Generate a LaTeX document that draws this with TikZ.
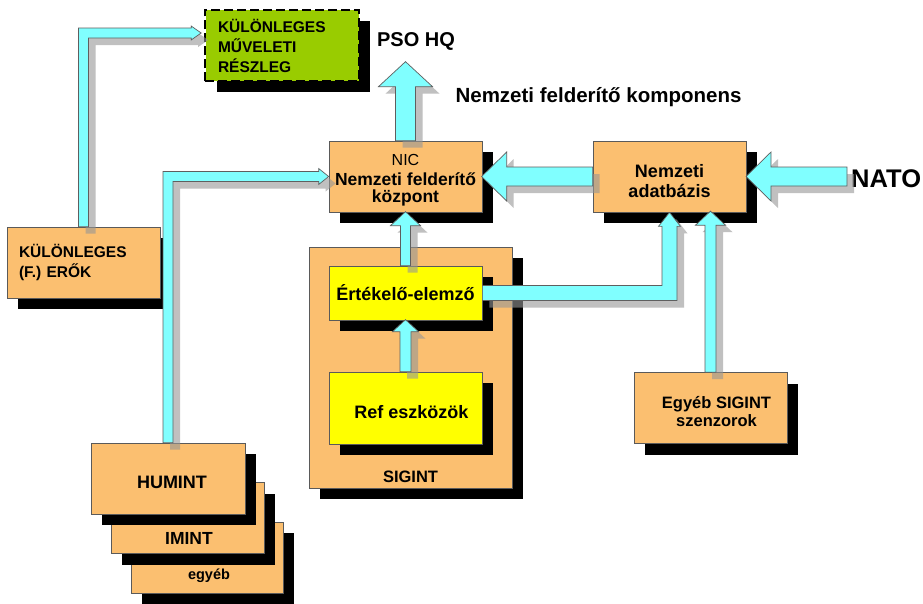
\documentclass[tikz,border=0pt]{standalone}
\usepackage{fontspec}
\setmainfont{Liberation Sans}
\usetikzlibrary{calc,shadows}
\definecolor{boxorange}{RGB}{251,191,112}
\definecolor{boxline}{RGB}{90,90,90}
\definecolor{acyan}{RGB}{128,255,255}
\definecolor{aline}{RGB}{95,95,95}
\definecolor{ashadowc}{RGB}{150,150,150}
\definecolor{sgreen}{RGB}{153,204,0}
\definecolor{syellow}{RGB}{255,255,0}
\tikzset{
  bshadow/.style={drop shadow={shadow xshift=11pt,shadow yshift=-11pt,fill=black,opacity=1}},
  box/.style={draw=boxline, line width=0.7pt, fill=boxorange, bshadow, minimum width=153pt,
    minimum height=71pt, inner sep=0pt, align=center, font=\bfseries\fontsize{18}{20}\selectfont},
  txt/.style={inner sep=0pt, font=\bfseries\fontsize{20}{22}\selectfont},
  dashedge/.style={draw=black, line width=2.2pt, dash pattern=on 9pt off 4pt},
  abody/.style={fill=acyan, draw=aline, line width=0.7pt, line join=miter},
  ashadow/.style={fill=ashadowc, fill opacity=0.6}
}
% vertical fat arrow pointing up: style, offset, start, shaft length, half shaft, half head, head length
\newcommand{\fatUpP}[7]{\path[#1] ($(#3)+(#5+#2,#2)$) -- ++(0,-#4) -- ++(#6-#5,0) -- ++(-#6,-#7)
  -- ++(-#6,#7) -- ++(#6-#5,0) -- ++(0,#4) -- cycle;}
\newcommand{\fatUp}[5]{\fatUpP{ashadow}{7}{#1}{#2}{#3}{#4}{#5}\fatUpP{abody}{0}{#1}{#2}{#3}{#4}{#5}}
% horizontal fat arrow pointing left
\newcommand{\fatLeftP}[7]{\path[#1] ($(#3)+(#2,#5+#2)$) -- ++(-#4,0) -- ++(0,#6-#5) -- ++(-#7,-#6)
  -- ++(#7,-#6) -- ++(0,#6-#5) -- ++(#4,0) -- cycle;}
\newcommand{\fatLeft}[5]{\fatLeftP{ashadow}{7}{#1}{#2}{#3}{#4}{#5}\fatLeftP{abody}{0}{#1}{#2}{#3}{#4}{#5}}
% up, then right: style, offset, start, tip, half shaft, half head, head length
\newcommand{\fatVHP}[7]{\path[#1] ($(#3)+(#5+#2,#2)$) -- ($(#3 |- #4)+(#5+#2,#5+#2)$)
  -- ($(#4)+(-#7+#2,#5+#2)$) -- ($(#4)+(-#7+#2,#6+#2)$) -- ($(#4)+(#2,#2)$)
  -- ($(#4)+(-#7+#2,-#6+#2)$) -- ($(#4)+(-#7+#2,-#5+#2)$) -- ($(#3 |- #4)+(-#5+#2,-#5+#2)$)
  -- ($(#3)+(-#5+#2,#2)$) -- cycle;}
\newcommand{\fatVH}[5]{\fatVHP{ashadow}{7}{#1}{#2}{#3}{#4}{#5}\fatVHP{abody}{0}{#1}{#2}{#3}{#4}{#5}}
% right, then up
\newcommand{\fatHVP}[7]{\path[#1] ($(#3)+(#2,-#5+#2)$) -- ($(#4 |- #3)+(-#5+#2,-#5+#2)$)
  -- ($(#4)+(-#5+#2,#7+#2)$) -- ($(#4)+(-#6+#2,#7+#2)$) -- ($(#4)+(#2,#2)$)
  -- ($(#4)+(#6+#2,#7+#2)$) -- ($(#4)+(#5+#2,#7+#2)$) -- ($(#4 |- #3)+(#5+#2,#5+#2)$)
  -- ($(#3)+(#2,#5+#2)$) -- cycle;}
\newcommand{\fatHV}[5]{\fatHVP{ashadow}{7}{#1}{#2}{#3}{#4}{#5}\fatHVP{abody}{0}{#1}{#2}{#3}{#4}{#5}}
\begin{document}
\begin{tikzpicture}[x=1pt,y=-1pt]
\useasboundingbox[fill=white] (0,0) rectangle (923,603);

% boxes
\node[box, fill=sgreen, draw=none,
  text width=128pt, inner xsep=11pt, align=left, font=\bfseries\fontsize{15.5}{20}\selectfont]
  (gb) at (282,45.5) {KÜLÖNLEGES\\MŰVELETI\\RÉSZLEG};
\draw[dashedge] (gb.south west) rectangle (gb.north east);
\node[box, text width=129pt, inner xsep=10pt, align=left, font=\bfseries\fontsize{15.5}{19.5}\selectfont]
  (ero) at (83.5,262.5) {KÜLÖNLEGES\\(F.) ERŐK};

\node[box, minimum width=152pt,
  label={[font=\bfseries\fontsize{14.5}{16}\selectfont, xshift=2pt, yshift=-18.5pt]center:egyéb}]
  (egyeb) at (207,557.5) {};
\node[box,
  label={[font=\bfseries\fontsize{17.5}{19}\selectfont, xshift=1.5pt, yshift=-20pt]center:IMINT}]
  (imint) at (187.5,518) {};
\node[box, minimum width=154pt] (humint) at (168,478.5) {\hspace*{8pt}\rule{0pt}{20pt}HUMINT};

\node[box,
  label={[font=\mdseries\fontsize{16}{18}\selectfont, yshift=16.5pt]center:NIC},
  label={[align=center, font=\bfseries\fontsize{17.5}{16.5}\selectfont, yshift=-13pt]center:Nemzeti felderítő\\központ}]
  (nic) at (405.5,176.5) {};
\node[box] (db) at (669.5,176.5) {\rule{0pt}{22pt}Nemzeti\\adatbázis};

\node[box, minimum width=203pt, minimum height=241pt,
  label={[font=\bfseries\fontsize{16.5}{18}\selectfont, yshift=-109.5pt]center:SIGINT}]
  (sig) at (410.5,367.5) {};
\node[box, fill=syellow, minimum height=54pt] (ert) at (405.5,293) {Értékelő-elemző};
\node[box, fill=syellow, minimum height=72pt] (ref) at (405.5,408) {\hspace*{12pt}\rule{0pt}{21pt}Ref eszközök};
\node[box, font=\bfseries\fontsize{16.5}{18}\selectfont] (szen) at (710.5,408)
  {\hspace*{12pt}\rule{0pt}{20pt}Egyéb SIGINT\\\hspace*{12pt}szenzorok};

% free texts
\node[txt] (pso) at (416,41) {PSO HQ};
\node[txt, font=\bfseries\fontsize{20.5}{22}\selectfont] (komp) at (598.5,97) {Nemzeti felderítő komponens};
\node[txt, font=\bfseries\fontsize{25.5}{28}\selectfont, anchor=west] (nato) at (851,179) {NATO};

% connectors
\coordinate (gbin) at ($(gb.west)+(-4,-12.5)$);
\coordinate (natoin) at ($(nato.west |- db.east)+(-4,0)$);

\fatVH{ero.north}{gbin}{5}{7}{10}
\fatVH{humint.north}{nic.west}{5}{8}{10}
\fatUp{nic.north}{54}{10}{27}{25}
\fatLeft{natoin}{76}{9.5}{24.5}{25}
\fatLeft{db.west}{86}{9.5}{24.5}{25}
\fatUp{ert.north}{40}{5}{15}{14}
\fatUp{ref.north}{40}{5.5}{13}{12}
\fatHV{ert.east}{db.south}{7.5}{11}{14}
\fatUp{szen.north}{147}{5.5}{15}{14}
\end{tikzpicture}
\end{document}
